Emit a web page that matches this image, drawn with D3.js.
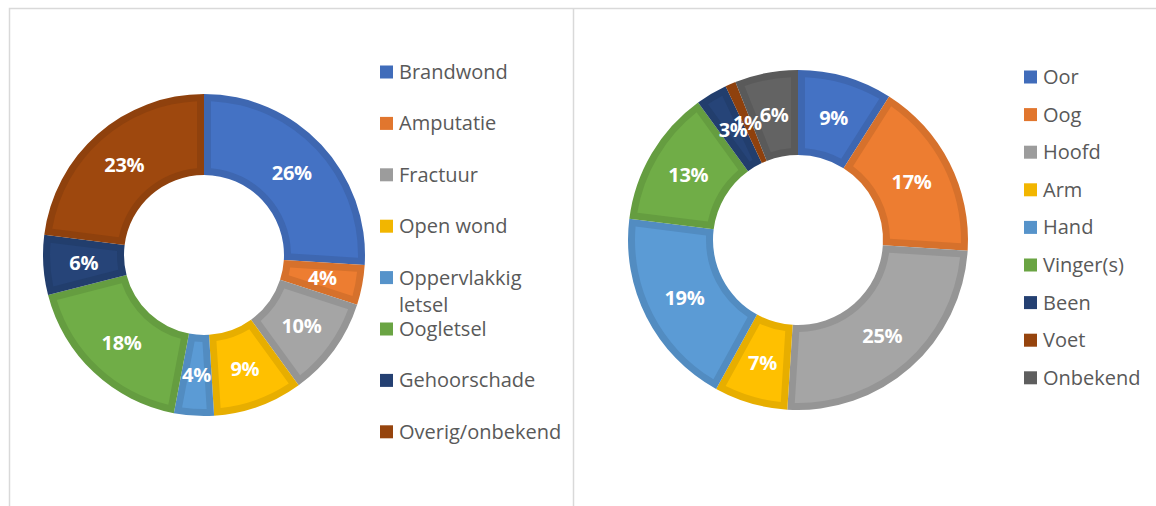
<!DOCTYPE html>
<html>
<head>
<meta charset="utf-8">
<script src="https://cdn.jsdelivr.net/npm/d3@7"></script>
<style>
  body { margin: 0; background: #fff; }
  svg { display: block; }
</style>
</head>
<body>
<div id="viz"></div>
<script>
const width = 1156;
const height = 506;

// left chart: type of injury
const letselCategories = ["Brandwond", "Amputatie", "Fractuur", "Open wond", "Oppervlakkig letsel", "Oogletsel", "Gehoorschade", "Overig/onbekend"];
const letselValues = [26, 4, 10, 9, 4, 18, 6, 23];
const letselColors = ["#4472C4", "#ED7D31", "#A5A5A5", "#FFC000", "#5B9BD5", "#70AD47", "#264478", "#9E480E"];

// right chart: body part
const lichaamCategories = ["Oor", "Oog", "Hoofd", "Arm", "Hand", "Vinger(s)", "Been", "Voet", "Onbekend"];
const lichaamValues = [9, 17, 25, 7, 19, 13, 3, 1, 6];
const lichaamColors = ["#4472C4", "#ED7D31", "#A5A5A5", "#FFC000", "#5B9BD5", "#70AD47", "#264478", "#9E480E", "#636363"];

const svg = d3.select('#viz')
    .append('svg')
        .attr('width', width)
        .attr('height', height);

// panel borders
const border = '#D9D9D9';
svg.append('path')
    .attr('d', 'M9.5,' + height + 'V8.5H1156M573.5,8.5V' + height)
    .attr('fill', 'none')
    .attr('stroke', border)
    .attr('stroke-width', 1.5);

function donut(cfg) {
    const total = d3.sum(cfg.values);
    const pie = d3.pie().sort(null).value(d => d.value);
    const data = pie(cfg.categories.map((c, i) => ({ name: c, value: cfg.values[i], color: cfg.colors[i] })));

    const g = svg.append('g')
        .attr('transform', `translate(${cfg.cx}, ${cfg.cy})`);

    const outer = d3.arc().innerRadius(cfg.inner).outerRadius(cfg.outer);
    const band = 7;
    const inset = d3.arc()
        .innerRadius(cfg.inner + band)
        .outerRadius(cfg.outer - band)
        .padRadius(100)
        .padAngle(2 * Math.asin(band / 100));
    const mid = d3.arc().innerRadius(cfg.inner).outerRadius(cfg.outer);

    g.selectAll('path.edge')
        .data(data)
        .join('path')
            .attr('class', 'edge')
            .attr('d', outer)
            .attr('fill', d => d3.color(d.data.color).darker(0.28));

    g.selectAll('path.face')
        .data(data)
        .join('path')
            .attr('class', 'face')
            .attr('d', inset)
            .attr('fill', d => d.data.color);

    g.selectAll('text.pct')
        .data(data)
        .join('text')
            .attr('class', 'pct')
            .attr('transform', d => `translate(${mid.centroid(d)})`)
            .attr('text-anchor', 'middle')
            .attr('dy', '0.36em')
            .style('font-family', '"Open Sans", sans-serif')
            .style('font-weight', 'bold')
            .style('font-size', '20px')
            .style('letter-spacing', '-0.3px')
            .style('fill', '#fff')
            .text(d => d3.format('.0%')(d.value / total));

    // legend
    const leg = svg.append('g')
        .attr('transform', `translate(${cfg.lx}, ${cfg.ly})`);

    const rows = leg.selectAll('g')
        .data(data)
        .join('g')
            .attr('transform', (d, i) => `translate(0, ${i * cfg.step})`);

    rows.append('rect')
        .attr('x', 0)
        .attr('y', -6.5)
        .attr('width', 13)
        .attr('height', 13)
        .attr('fill', d => d3.color(d.data.color).darker(0.15));

    rows.append('text')
        .attr('x', 19)
        .attr('dy', '0.35em')
        .style('font-family', '"Open Sans", sans-serif')
        .style('font-size', '20px')
        .style('fill', '#595959')
        .each(function(d) {
            // wrap long labels like Excel does
            const el = d3.select(this);
            const words = d.data.name.split(' ');
            let line = [];
            let tspan = el.append('tspan').attr('x', 19);
            words.forEach(w => {
                line.push(w);
                tspan.text(line.join(' '));
                if (tspan.node().getComputedTextLength() > cfg.maxText && line.length > 1) {
                    line.pop();
                    tspan.text(line.join(' '));
                    line = [w];
                    tspan = el.append('tspan').attr('x', 19).attr('dy', '1.35em').text(w);
                }
            });
        });
}

donut({
    categories: letselCategories, values: letselValues, colors: letselColors,
    cx: 204, cy: 255, outer: 161, inner: 80,
    lx: 380, ly: 72, step: 51.4, maxText: 172
});

donut({
    categories: lichaamCategories, values: lichaamValues, colors: lichaamColors,
    cx: 798, cy: 240, outer: 170, inner: 85,
    lx: 1024, ly: 77, step: 37.6, maxText: 130
});
</script>
</body>
</html>
